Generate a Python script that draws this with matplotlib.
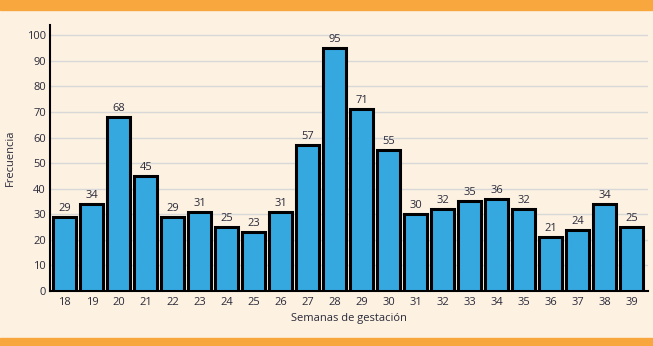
import matplotlib
matplotlib.use("Agg")
import matplotlib.pyplot as plt
from matplotlib.patches import Rectangle

weeks = list(range(18, 40))
freq = [29, 34, 68, 45, 29, 31, 25, 23, 31, 57, 95, 71, 55, 30, 32, 35, 36, 32, 21, 24, 34, 25]
xlabel = "Semanas de gestación"
ylabel = "Frecuencia"

bg = "#FDF2E2"
orange = "#F8A73F"
blue = "#35A8E0"
textc = "#2a2a3a"

plt.rcParams['font.family'] = ['Open Sans', 'DejaVu Sans']

fig = plt.figure(figsize=(6.53, 3.46), dpi=100, facecolor=bg)
fig.patches.append(Rectangle((0, 1 - 10/346), 1, 10/346, transform=fig.transFigure, color=orange, zorder=0))
fig.patches.append(Rectangle((0, 0), 1, 8/346, transform=fig.transFigure, color=orange, zorder=0))

ax = fig.add_axes([50/653, 1 - 291/346, (648 - 50)/653, (291 - 25)/346])
ax.set_facecolor(bg)
ax.bar(weeks, freq, width=0.86, color=blue, edgecolor="black", linewidth=2.2, zorder=3)
for x, v in zip(weeks, freq):
    ax.text(x, v + 1.2, str(v), ha="center", va="bottom", fontsize=8, color=textc, zorder=4)

ax.set_xlim(17.45, 39.6)
ax.set_ylim(0, 104)
ax.set_yticks(range(0, 101, 10))
ax.set_xticks(weeks)
ax.yaxis.grid(True, color="#d8d8d8", linewidth=1, zorder=0)
ax.set_axisbelow(True)
for s in ["top", "right"]:
    ax.spines[s].set_visible(False)
ax.spines["left"].set_linewidth(1.5)
ax.spines["bottom"].set_linewidth(1.5)
ax.tick_params(axis="both", length=0, labelsize=8, colors=textc, pad=3)
ax.tick_params(axis="x", pad=4)
ax.set_xlabel(xlabel, fontsize=8, color=textc, labelpad=4)
ax.set_ylabel(ylabel, fontsize=8, color=textc, labelpad=8)

fig.savefig("out.png", dpi=100, facecolor=bg)
